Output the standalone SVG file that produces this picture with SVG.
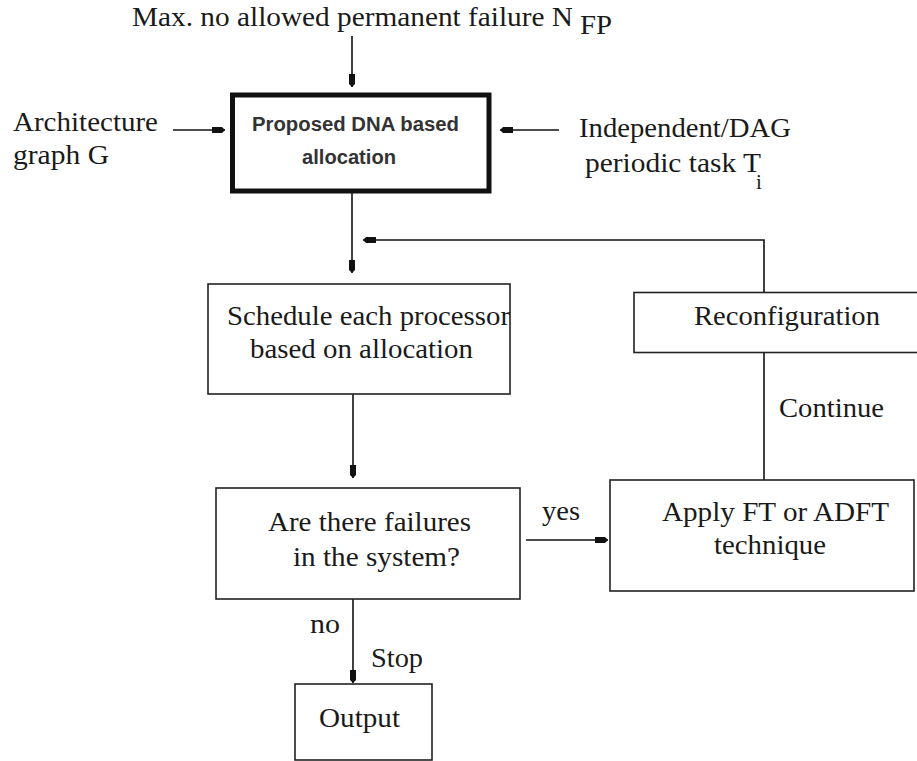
<svg xmlns="http://www.w3.org/2000/svg" width="917" height="761" viewBox="0 0 917 761">
<style>
.t{font-family:"Liberation Serif","Times New Roman",serif;font-size:28px;fill:#1a1a1a}
.s{font-family:"Liberation Sans",Arial,sans-serif;font-size:20px;font-weight:bold;fill:#333}
.box{fill:#fff;stroke:#222;stroke-width:1.6}
.c{fill:none;stroke:#111;stroke-width:1.6}
</style>
<defs>
<marker id="ah" markerUnits="userSpaceOnUse" markerWidth="16" markerHeight="10" viewBox="-14 -5 16 10" refX="0" refY="0" orient="auto">
<path d="M0,0 L-3,-3 L-13,-3 L-13,3 L-3,3 Z" fill="#111"/>
</marker>
</defs>
<rect width="917" height="761" fill="#fff"/>
<g id="connectors">
<path class="c" d="M352,36 L352,87" marker-end="url(#ah)"/>
<path class="c" d="M173,130 L225,130" marker-end="url(#ah)"/>
<path class="c" d="M559,130 L500,130" marker-end="url(#ah)"/>
<path class="c" d="M352,193 L352,273" marker-end="url(#ah)"/>
<path class="c" d="M764,292 L764,240 L363,240" marker-end="url(#ah)"/>
<path class="c" d="M764,353 L764,480"/>
<path class="c" d="M353,394 L353,478" marker-end="url(#ah)"/>
<path class="c" d="M526,540 L608,540" marker-end="url(#ah)"/>
<path class="c" d="M353,599 L353,683" marker-end="url(#ah)"/>
</g>
<g id="inputs">
<text class="t" x="132" y="26" textLength="441" lengthAdjust="spacingAndGlyphs">Max. no allowed permanent failure N</text>
<text class="t" x="580" y="34" textLength="32" lengthAdjust="spacingAndGlyphs">FP</text>
<text class="t" x="13" y="131" textLength="145" lengthAdjust="spacingAndGlyphs">Architecture</text>
<text class="t" x="13" y="164" textLength="96" lengthAdjust="spacingAndGlyphs">graph G</text>
<text class="t" x="579" y="137" textLength="212" lengthAdjust="spacingAndGlyphs">Independent/DAG</text>
<text class="t" x="585" y="172" textLength="176" lengthAdjust="spacingAndGlyphs">periodic task T</text>
<text class="t" x="756" y="189" style="font-size:21px">i</text>
</g>
<g id="dna-allocation">
<rect x="232.5" y="95" width="256.5" height="96" fill="#fff" stroke="#111" stroke-width="5"/>
<text class="s" x="252" y="131" textLength="207" lengthAdjust="spacingAndGlyphs">Proposed DNA based</text>
<text class="s" x="302" y="164" textLength="94" lengthAdjust="spacingAndGlyphs">allocation</text>
</g>
<g id="schedule">
<rect class="box" x="208" y="284" width="302" height="110"/>
<text class="t" x="227" y="325" textLength="283" lengthAdjust="spacingAndGlyphs">Schedule each processor</text>
<text class="t" x="250" y="358" textLength="223" lengthAdjust="spacingAndGlyphs">based on allocation</text>
</g>
<g id="reconfiguration">
<rect class="box" x="634" y="292.5" width="300" height="60"/>
<text class="t" x="694" y="325" textLength="186" lengthAdjust="spacingAndGlyphs">Reconfiguration</text>
</g>
<text class="t" x="779" y="417" textLength="105" lengthAdjust="spacingAndGlyphs">Continue</text>
<g id="failures">
<rect class="box" x="216" y="488" width="304" height="111"/>
<text class="t" x="268" y="531" textLength="203" lengthAdjust="spacingAndGlyphs">Are there failures</text>
<text class="t" x="293" y="566" textLength="167" lengthAdjust="spacingAndGlyphs">in the system?</text>
</g>
<text class="t" x="542" y="520" textLength="38" lengthAdjust="spacingAndGlyphs">yes</text>
<g id="apply-ft">
<rect class="box" x="610" y="480" width="304" height="111"/>
<text class="t" x="662" y="521" textLength="227" lengthAdjust="spacingAndGlyphs">Apply FT or ADFT</text>
<text class="t" x="714" y="554" textLength="112" lengthAdjust="spacingAndGlyphs">technique</text>
</g>
<text class="t" x="310" y="633" textLength="30" lengthAdjust="spacingAndGlyphs">no</text>
<text class="t" x="371" y="667" textLength="52" lengthAdjust="spacingAndGlyphs">Stop</text>
<g id="output">
<rect class="box" x="295" y="684" width="137" height="76"/>
<text class="t" x="319" y="727" textLength="81" lengthAdjust="spacingAndGlyphs">Output</text>
</g>
</svg>
